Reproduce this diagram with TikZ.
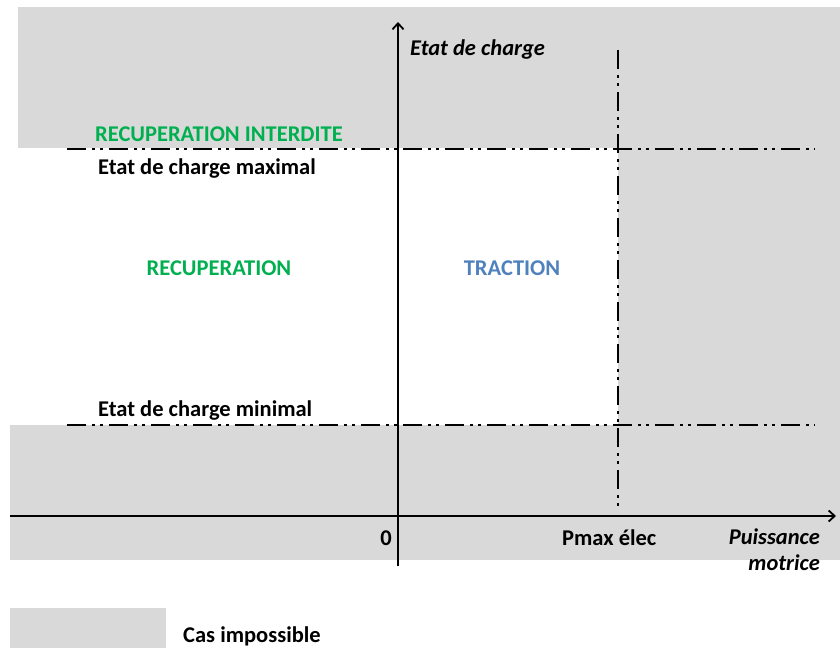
\documentclass[tikz,border=0pt]{standalone}
\usepackage{fontspec}
\setmainfont{Carlito}
\usetikzlibrary{arrows.meta}
\definecolor{zone}{RGB}{217,217,217}
\definecolor{recup}{RGB}{0,176,80}
\definecolor{tract}{RGB}{79,129,189}
\tikzset{
  limite/.style={line width=2.8pt,dash pattern=on 19pt off 6pt on 3pt off 5pt on 3pt off 6pt},
  axe/.style={line width=1.8pt,-{Straight Barb[length=6pt,width=11pt]}},
  lbl/.style={font=\bfseries\fontsize{22.5}{26}\selectfont,inner sep=0pt},
  ilbl/.style={font=\bfseries\itshape\fontsize{22.5}{26}\selectfont,inner sep=0pt}
}
\begin{document}
\begin{tikzpicture}[x=1pt,y=-1pt]
\useasboundingbox (0,0) rectangle (840,648);
\fill[zone] (18,7) rectangle (840,148);
\fill[zone] (618,148) rectangle (840,425);
\fill[zone] (10,425) rectangle (840,560);
\fill[zone] (10,608) rectangle (166,648);
%\draw (0,0) rectangle (840,648);
\coordinate (ybas) at (398,566);
\coordinate (yhaut) at (398,22);
\coordinate (xgauche) at (10,516);
\coordinate (xdroite) at (836,516);
\draw[axe] (xgauche) -- (xdroite);
\draw[axe] (ybas) -- (yhaut);
\coordinate (max0) at (67,149);
\coordinate (max1) at (815,149);
\coordinate (min0) at (67,425);
\coordinate (min1) at (815,425);
\coordinate (p0) at (618,50);
\coordinate (p1) at (618,508);
\draw[limite] (max0) -- (max1);
\draw[limite] (min0) -- (min1);
\draw[limite] (p0) -- (p1);
\node[ilbl,anchor=west] (ec) at (410,49) {Etat de charge};
\node[lbl,anchor=west,recup] (ri) at (95,134) {RECUPERATION INTERDITE};
\node[lbl,anchor=west] (emax) at (98,169) {Etat de charge maximal};
\node[lbl,recup] (rec) at (219,268) {RECUPERATION};
\node[lbl,tract] (tr) at (512,268) {TRACTION};
\node[lbl,anchor=west] (emin) at (98,411) {Etat de charge minimal};
\node[lbl,anchor=east] (zero) at (392,538) {0};
\node[lbl,anchor=west] (pmax) at (562,538) {Pmax élec};
\node[ilbl,anchor=east,align=right] (pm) at (820,550) {Puissance\\motrice};
\node[lbl,anchor=west] (cas) at (183,636) {Cas impossible};
\end{tikzpicture}
\end{document}
